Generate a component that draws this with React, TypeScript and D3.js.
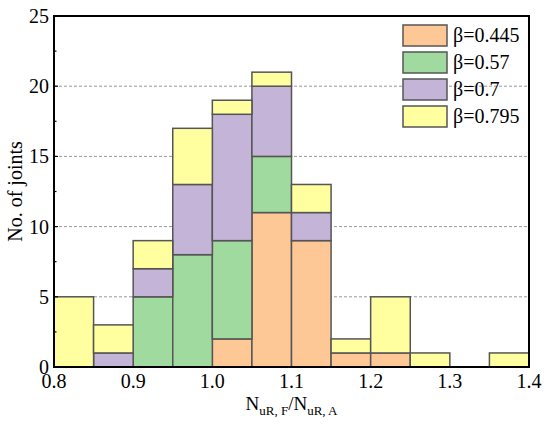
import React from "react";
import * as d3 from "d3";

const binStarts = [0.8, 0.85, 0.9, 0.95, 1.0, 1.05, 1.1, 1.15, 1.2, 1.25, 1.3, 1.35];
const seriesNames = ["β=0.445", "β=0.57", "β=0.7", "β=0.795"];
const b0445 = [0, 0, 0, 0, 2, 11, 9, 1, 1, 0, 0, 0];
const b057 = [0, 0, 5, 8, 7, 4, 0, 0, 0, 0, 0, 0];
const b07 = [0, 1, 2, 5, 9, 5, 2, 0, 0, 0, 0, 0];
const b0795 = [5, 2, 2, 4, 1, 1, 2, 1, 4, 1, 0, 1];
const colors = ["#FDC895", "#A0DA9E", "#C4B4D8", "#FFFF9F"];
const xTicks = [0.8, 0.9, 1.0, 1.1, 1.2, 1.3, 1.4];
const yTicks = [0, 5, 10, 15, 20, 25];
const gridVals = [5, 10, 15, 20];
const binWidth = 0.05;

export default function App() {
  const W = 550, H = 426;
  const m = { l: 54, r: 21, t: 16, b: 59 };
  const x = d3.scaleLinear().domain([0.8, 1.4]).range([m.l, W - m.r]);
  const y = d3.scaleLinear().domain([0, 25]).range([H - m.b, m.t]);
  const table = binStarts.map((s, i) => ({ s, v0: b0445[i], v1: b057[i], v2: b07[i], v3: b0795[i] }));
  const stacked = d3.stack<any>().keys(["v0", "v1", "v2", "v3"])(table);
  const font = "'Liberation Serif', 'DejaVu Serif', serif";
  const minor = d3.range(0, 25.01, 2.5);
  return (
    <svg width={W} height={H} style={{ position: "absolute", left: 0, top: 0, background: "#fff" }} fontFamily={font}>
      {gridVals.map((g) => (
        <line key={g} x1={m.l} x2={W - m.r} y1={y(g)} y2={y(g)} stroke="#999" strokeWidth={1} strokeDasharray="3,2" />
      ))}
      {stacked.map((layer, si) =>
        layer.map((d, i) =>
          d[1] - d[0] > 0 ? (
            <rect
              key={si + "-" + i}
              x={x(binStarts[i])}
              width={x(binStarts[i] + binWidth) - x(binStarts[i])}
              y={y(d[1])}
              height={y(d[0]) - y(d[1])}
              fill={colors[si]}
              stroke="#555"
              strokeWidth={1.5}
            />
          ) : null
        )
      )}
      <rect x={m.l} y={m.t} width={W - m.l - m.r} height={H - m.t - m.b} fill="none" stroke="#000" strokeWidth={2} />
      {minor.map((v) => (
        <line key={"ym" + v} x1={m.l} x2={m.l + (v % 5 === 0 ? 4 : 2.5)} y1={y(v)} y2={y(v)} stroke="#000" strokeWidth={1.2} />
      ))}
      {yTicks.map((v) => (
        <text key={"yt" + v} x={m.l - 5} y={y(v) + 7} textAnchor="end" fontSize={20}>{v}</text>
      ))}
      {xTicks.map((v) => (
        <text key={"xt" + v} x={x(v)} y={H - m.b + 21} textAnchor="middle" fontSize={20}>{v.toFixed(1)}</text>
      ))}
      <text transform={`translate(22,${(m.t + H - m.b) / 2}) rotate(-90)`} textAnchor="middle" fontSize={20}>No. of joints</text>
      <text x={(m.l + W - m.r) / 2} y={410} textAnchor="middle" fontSize={19}>
        N<tspan fontSize={13} dy={5}>uR, F</tspan><tspan dy={-5}>/N</tspan><tspan fontSize={13} dy={5}>uR, A</tspan>
      </text>
      {seriesNames.map((n, i) => (
        <g key={n} transform={`translate(403,${25 + i * 27})`}>
          <rect x={0} y={0} width={44} height={21} fill={colors[i]} stroke="#555" strokeWidth={1.5} />
          <text x={50} y={17} fontSize={20}>{n}</text>
        </g>
      ))}
    </svg>
  );
}
